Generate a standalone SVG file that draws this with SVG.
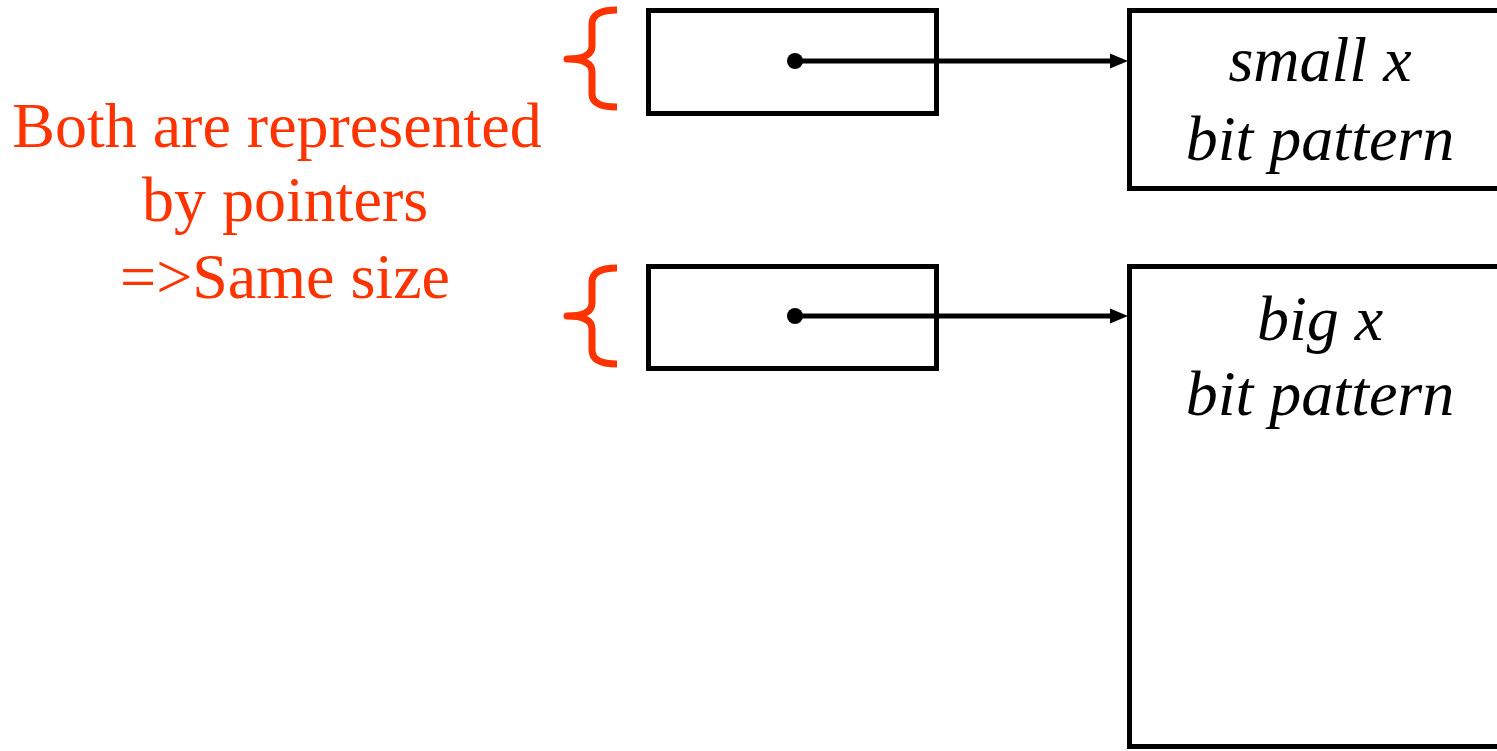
<svg xmlns="http://www.w3.org/2000/svg" width="1497" height="751" viewBox="0 0 1497 751">
<style>
.box{fill:none;stroke:#000;stroke-width:5}
.brace{fill:none;stroke:#FF3300;stroke-width:7;stroke-linecap:butt;stroke-linejoin:round}
.lbl{font-family:"Liberation Serif","Times New Roman",serif;font-size:64px;fill:#FF3300;text-anchor:middle}
.it{font-family:"Liberation Serif","Times New Roman",serif;font-size:64px;font-style:italic;fill:#000;text-anchor:middle}
.conn{stroke:#000;stroke-width:5;fill:none}
</style>
<defs>
<marker id="arr" markerUnits="userSpaceOnUse" markerWidth="20" markerHeight="16" refX="18" refY="7.5" orient="auto" overflow="visible">
<path d="M0,0 L18,7.5 L0,15 Z" fill="#000"/>
</marker>
</defs>
<rect width="1497" height="751" fill="#fff"/>
<g id="label">
<text class="lbl" x="277" y="147">Both are represented</text>
<text class="lbl" x="285" y="221">by pointers</text>
<text class="lbl" x="285" y="298">=&gt;Same size</text>
</g>
<g id="brace1">
<path class="brace" d="M617,10 Q592,10 592,24 L592,46 Q592,59 567,59 Q592,59 592,72 L592,94 Q592,107 617,107"/>
</g>
<g id="brace2">
<path class="brace" d="M617,268 Q592,268 592,282 L592,303 Q592,316 567,316 Q592,316 592,329 L592,350 Q592,364 617,364"/>
</g>
<g id="ptr1">
<rect class="box" x="648.5" y="10.5" width="288" height="103"/>
</g>
<g id="ptr2">
<rect class="box" x="648.5" y="266.5" width="288" height="102"/>
</g>
<g id="small">
<rect class="box" x="1129.5" y="10.5" width="400" height="178"/>
<text class="it" x="1320" y="81">small x</text>
<text class="it" x="1320" y="160">bit pattern</text>
</g>
<g id="big">
<rect class="box" x="1129.5" y="266.5" width="400" height="480"/>
<text class="it" x="1320" y="340">big x</text>
<text class="it" x="1320" y="415">bit pattern</text>
</g>
<g id="connectors">
<circle cx="795" cy="61" r="8" fill="#000"/>
<line class="conn" x1="795" y1="61" x2="1120" y2="61"/>
<path d="M1110,53.5 L1128,61 L1110,68.5 Z" fill="#000"/>
<circle cx="795" cy="316" r="8" fill="#000"/>
<line class="conn" x1="795" y1="316" x2="1120" y2="316"/>
<path d="M1110,308.5 L1128,316 L1110,323.5 Z" fill="#000"/>
</g>
</svg>
